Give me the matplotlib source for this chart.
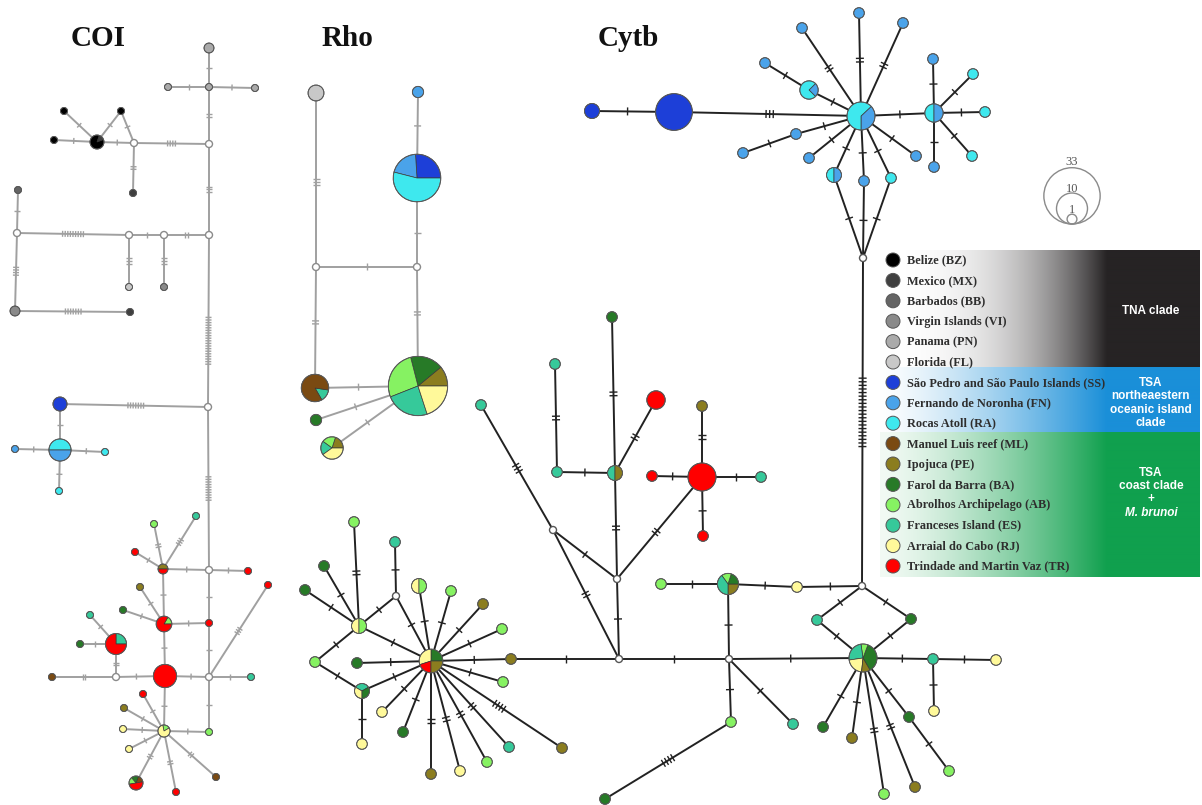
import numpy as np
import matplotlib
matplotlib.use("Agg")
import matplotlib.pyplot as plt
from matplotlib.patches import Wedge, Circle
from matplotlib.collections import LineCollection

#-------------------------------------------------------------
# populations (legend order)
pop_codes = ["BZ", "MX", "BB", "VI", "PN", "FL", "SS", "FN", "RA",
             "ML", "PE", "BA", "AB", "ES", "RJ", "TR"]
pop_labels = ["Belize (BZ)", "Mexico (MX)", "Barbados (BB)", "Virgin Islands (VI)",
              "Panama (PN)", "Florida (FL)", "São Pedro and São Paulo Islands (SS)",
              "Fernando de Noronha (FN)", "Rocas Atoll (RA)", "Manuel Luis reef (ML)",
              "Ipojuca (PE)", "Farol da Barra (BA)", "Abrolhos Archipelago (AB)",
              "Franceses Island (ES)", "Arraial do Cabo (RJ)", "Trindade and Martin Vaz (TR)"]
pop_colors = ["#000000", "#3f3f3f", "#646464", "#8a8a8a", "#aaaaaa", "#c8c8c8",
              "#1d3fd8", "#4aa3ea", "#3ee8ee", "#7a4a12", "#8b7d1f", "#277a27",
              "#86f262", "#36c99a", "#fff99a", "#ff0000"]
color_of = dict(zip(pop_codes, pop_colors))

clade_names = ["TNA clade", "TSA\nnortheaestern\noceanic island\nclade", "TSA\ncoast clade\n+"]
size_key = [33, 10, 1]

# haplotype nodes: (id, x, y, frequency, population shares, start angle)
# frequency 0 = median vector
coi_nodes = [
    ("a1", 209, 48, 2, {"PN": 1}, 0), ("a2", 209, 87, 1, {"PN": 1}, 0),
    ("a3", 168, 87, 1, {"PN": 1}, 0), ("a4", 255, 88, 1, {"PN": 1}, 0),
    ("m1", 209, 144, 0, None, 0), ("m2", 134, 143, 0, None, 0),
    ("b1", 97, 142, 4, {"MX": 1, "BZ": 6}, 20), ("b2", 54, 140, 1, {"BZ": 1}, 0),
    ("b3", 64, 111, 1, {"BZ": 1}, 0), ("b4", 121, 111, 1, {"BZ": 1}, 0),
    ("b5", 133, 193, 1, {"MX": 1}, 0),
    ("m3", 209, 235, 0, None, 0), ("m4", 17, 233, 0, None, 0),
    ("m5", 129, 235, 0, None, 0), ("m6", 164, 235, 0, None, 0),
    ("c1", 18, 190, 1, {"BB": 1}, 0), ("c2", 129, 287, 1, {"FL": 1}, 0),
    ("c3", 164, 287, 1, {"VI": 1}, 0), ("c4", 15, 311, 2, {"VI": 1}, 0),
    ("c5", 130, 312, 1, {"MX": 1}, 0),
    ("m7", 208, 407, 0, None, 0),
    ("d1", 60, 404, 4, {"SS": 1}, 0), ("d2", 60, 450, 10, {"RA": 1, "FN": 1}, 0),
    ("d3", 15, 449, 1, {"FN": 1}, 0), ("d4", 105, 452, 1, {"RA": 1}, 0),
    ("d5", 59, 491, 1, {"RA": 1}, 0),
    ("m8", 209, 570, 0, None, 0),
    ("e1", 163, 569, 2, {"PE": 1, "TR": 1}, 0), ("e2", 248, 571, 1, {"TR": 1}, 0),
    ("e3", 135, 552, 1, {"TR": 1}, 0), ("e4", 154, 524, 1, {"AB": 1}, 0),
    ("e5", 196, 516, 1, {"ES": 1}, 0), ("e6", 164, 624, 5, {"AB": 1, "TR": 5}, 0),
    ("e7", 140, 587, 1, {"PE": 1}, 0), ("e8", 123, 610, 1, {"BA": 1}, 0),
    ("e9", 209, 623, 1, {"TR": 1}, 0), ("m9", 209, 677, 0, None, 0),
    ("e10", 165, 676, 11, {"TR": 1}, 0), ("e11", 251, 677, 1, {"ES": 1}, 0),
    ("e12", 268, 585, 1, {"TR": 1}, 0), ("m10", 116, 677, 0, None, 0),
    ("e13", 52, 677, 1, {"ML": 1}, 0), ("e14", 116, 644, 9, {"ES": 1, "TR": 3}, 0),
    ("e15", 90, 615, 1, {"ES": 1}, 0), ("e16", 80, 644, 1, {"BA": 1}, 0),
    ("e17", 164, 731, 3, {"AB": 1, "RJ": 4}, 30), ("e18", 209, 732, 1, {"AB": 1}, 0),
    ("e19", 143, 694, 1, {"TR": 1}, 0), ("e20", 124, 708, 1, {"PE": 1}, 0),
    ("e21", 123, 729, 1, {"RJ": 1}, 0), ("e22", 129, 749, 1, {"RJ": 1}, 0),
    ("e23", 136, 783, 4, {"ML": 1, "BA": 1, "AB": 1, "TR": 3}, 10),
    ("e24", 176, 792, 1, {"TR": 1}, 0), ("e25", 216, 777, 1, {"ML": 1}, 0),
]
# edges: (from, to, mutational steps[, position of the steps along the edge])
coi_edges = [
    ("a1", "a2", 1), ("a3", "a2", 1), ("a2", "a4", 1), ("a2", "m1", 2),
    ("m2", "m1", 4), ("b1", "m2", 1), ("b2", "b1", 1), ("b3", "b1", 1),
    ("b4", "b1", 1), ("b4", "m2", 1), ("m2", "b5", 2), ("m1", "m3", 3),
    ("c1", "m4", 1), ("m4", "m5", 9), ("m5", "m6", 1), ("m6", "m3", 2),
    ("m5", "c2", 3), ("m6", "c3", 3), ("m4", "c4", 4), ("c4", "c5", 7),
    ("m3", "m7", 19, 0.62), ("d1", "m7", 7), ("d1", "d2", 1), ("d3", "d2", 1),
    ("d2", "d4", 1), ("d2", "d5", 1), ("m7", "m8", 10),
    ("e1", "m8", 1), ("m8", "e2", 1), ("e1", "e3", 1), ("e1", "e4", 2),
    ("e1", "e5", 3), ("e1", "e6", 1), ("e6", "e7", 1), ("e6", "e8", 1),
    ("e6", "e9", 1), ("m8", "e9", 1), ("e9", "m9", 1), ("e6", "e10", 1),
    ("e10", "m9", 1), ("m9", "e11", 1), ("m9", "e12", 3), ("m10", "e10", 1),
    ("e13", "m10", 2), ("m10", "e14", 2), ("e14", "e15", 1), ("e14", "e16", 1),
    ("e10", "e17", 1), ("m9", "e18", 1), ("e17", "e18", 1), ("e17", "e19", 1),
    ("e17", "e20", 1), ("e17", "e21", 1), ("e17", "e22", 1), ("e17", "e23", 2),
    ("e17", "e24", 2), ("e17", "e25", 2),
]

rho_nodes = [
    ("r1", 316, 93, 2, {"FL": 1}, 0), ("r2", 418, 92, 1, {"FN": 1}, 0),
    ("r3", 417, 178, 18, {"SS": 26, "FN": 20, "RA": 54}, 0),
    ("rm1", 316, 267, 0, None, 0), ("rm2", 417, 267, 0, None, 0),
    ("r4", 315, 388, 6, {"ES": 1, "ML": 6}, -60),
    ("r5", 418, 386, 28, {"PE": 11, "BA": 18, "AB": 27, "ES": 24, "RJ": 20}, 0),
    ("r6", 316, 420, 1, {"BA": 1}, 0),
    ("r7", 332, 448, 4, {"PE": 1, "AB": 1, "ES": 1, "RJ": 2}, 0),
]
rho_edges = [
    ("r1", "rm1", 3), ("r2", "r3", 1), ("r3", "rm2", 1), ("rm1", "rm2", 1),
    ("rm1", "r4", 2), ("rm2", "r5", 2), ("r4", "r5", 1), ("r6", "r5", 1),
    ("r7", "r5", 1),
]

cytb_nodes = [
    ("t1", 592, 111, 2, {"SS": 1}, 0), ("t2", 674, 112, 12, {"SS": 1}, 0),
    ("t3", 861, 116, 7, {"FN": 37, "RA": 63}, -90),
    ("t4", 934, 113, 3, {"RA": 1, "FN": 1}, 90),
    ("t5", 933, 59, 1, {"FN": 1}, 0), ("t6", 973, 74, 1, {"RA": 1}, 0),
    ("t7", 985, 112, 1, {"RA": 1}, 0), ("t8", 972, 156, 1, {"RA": 1}, 0),
    ("t9", 934, 167, 1, {"FN": 1}, 0), ("t10", 859, 13, 1, {"FN": 1}, 0),
    ("t11", 802, 28, 1, {"FN": 1}, 0), ("t12", 903, 23, 1, {"FN": 1}, 0),
    ("t13", 809, 90, 3, {"FN": 1, "RA": 3}, -45), ("t14", 765, 63, 1, {"FN": 1}, 0),
    ("t15", 796, 134, 1, {"FN": 1}, 0), ("t16", 743, 153, 1, {"FN": 1}, 0),
    ("t17", 809, 158, 1, {"FN": 1}, 0), ("t18", 916, 156, 1, {"FN": 1}, 0),
    ("t19", 834, 175, 2, {"RA": 1, "FN": 1}, 90), ("t20", 864, 181, 1, {"FN": 1}, 0),
    ("t21", 891, 178, 1, {"RA": 1}, 0),
    ("cm1", 863, 258, 0, None, 0), ("cm2", 862, 586, 0, None, 0),
    ("u1", 612, 317, 1, {"BA": 1}, 0), ("u2", 615, 473, 2, {"ES": 1, "PE": 1}, 90),
    ("u3", 555, 364, 1, {"ES": 1}, 0), ("u4", 557, 472, 1, {"ES": 1}, 0),
    ("u5", 656, 400, 3, {"TR": 1}, 0),
    ("cm3", 617, 579, 0, None, 0), ("cm4", 553, 530, 0, None, 0),
    ("u6", 481, 405, 1, {"ES": 1}, 0), ("u7", 702, 477, 7, {"TR": 1}, 0),
    ("u8", 702, 406, 1, {"PE": 1}, 0), ("u9", 652, 476, 1, {"TR": 1}, 0),
    ("u10", 761, 477, 1, {"ES": 1}, 0), ("u11", 703, 536, 1, {"TR": 1}, 0),
    ("cm5", 619, 659, 0, None, 0), ("cm6", 729, 659, 0, None, 0),
    ("v1", 728, 584, 4, {"PE": 25, "BA": 20, "AB": 15, "ES": 40}, -90),
    ("v2", 661, 584, 1, {"AB": 1}, 0), ("v3", 797, 587, 1, {"RJ": 1}, 0),
    ("v4", 731, 722, 1, {"AB": 1}, 0), ("v5", 793, 724, 1, {"ES": 1}, 0),
    ("v6", 605, 799, 1, {"BA": 1}, 0),
    ("v7", 863, 658, 7, {"BA": 36, "AB": 8, "ES": 25, "RJ": 21, "PE": 10}, -60),
    ("v8", 817, 620, 1, {"ES": 1}, 0), ("v9", 911, 619, 1, {"BA": 1}, 0),
    ("v10", 933, 659, 1, {"ES": 1}, 0), ("v11", 996, 660, 1, {"RJ": 1}, 0),
    ("v12", 934, 711, 1, {"RJ": 1}, 0), ("v13", 823, 727, 1, {"BA": 1}, 0),
    ("v14", 852, 738, 1, {"PE": 1}, 0), ("v15", 884, 794, 1, {"AB": 1}, 0),
    ("v16", 915, 787, 1, {"PE": 1}, 0), ("v17", 909, 717, 1, {"BA": 1}, 0),
    ("v18", 949, 771, 1, {"AB": 1}, 0),
    ("w0", 431, 661, 5, {"BA": 25, "RJ": 30, "TR": 20, "PE": 25}, 0),
    ("w1", 359, 626, 2, {"RJ": 1, "AB": 1}, 90),
    ("w2", 362, 691, 2, {"ES": 1, "RJ": 1, "BA": 1}, 30),
    ("w3", 315, 662, 1, {"AB": 1}, 0), ("wm", 396, 596, 0, None, 0),
    ("w4", 354, 522, 1, {"AB": 1}, 0), ("w5", 395, 542, 1, {"ES": 1}, 0),
    ("w6", 324, 566, 1, {"BA": 1}, 0), ("w7", 305, 590, 1, {"BA": 1}, 0),
    ("w8", 362, 744, 1, {"RJ": 1}, 0), ("w9", 357, 663, 1, {"BA": 1}, 0),
    ("w10", 419, 586, 2, {"RJ": 1, "AB": 1}, 90),
    ("w11", 451, 591, 1, {"AB": 1}, 0), ("w12", 483, 604, 1, {"PE": 1}, 0),
    ("w13", 502, 629, 1, {"AB": 1}, 0), ("w14", 511, 659, 1, {"PE": 1}, 0),
    ("w15", 503, 682, 1, {"AB": 1}, 0), ("w16", 382, 712, 1, {"RJ": 1}, 0),
    ("w17", 403, 732, 1, {"BA": 1}, 0), ("w18", 431, 774, 1, {"PE": 1}, 0),
    ("w19", 460, 771, 1, {"RJ": 1}, 0), ("w20", 487, 762, 1, {"AB": 1}, 0),
    ("w21", 509, 747, 1, {"ES": 1}, 0), ("w22", 562, 748, 1, {"PE": 1}, 0),
]
cytb_edges = [
    ("t1", "t2", 1), ("t2", "t3", 3), ("t3", "t4", 1),
    ("t4", "t5", 1), ("t4", "t6", 1), ("t4", "t7", 1), ("t4", "t8", 1), ("t4", "t9", 1),
    ("t3", "t10", 2), ("t3", "t11", 2), ("t3", "t12", 2), ("t3", "t13", 1),
    ("t13", "t14", 1), ("t3", "t15", 1), ("t15", "t16", 1), ("t3", "t17", 1),
    ("t3", "t18", 1), ("t3", "t19", 1), ("t3", "t20", 1), ("t3", "t21", 1),
    ("t19", "cm1", 1), ("t20", "cm1", 1), ("t21", "cm1", 1), ("cm1", "cm2", 20, 0.47),
    ("u1", "u2", 2), ("u3", "u4", 2), ("u4", "u2", 1), ("u5", "u2", 2),
    ("u2", "cm3", 2), ("u6", "cm4", 3), ("cm4", "cm3", 1), ("cm4", "cm5", 2),
    ("u7", "cm3", 2), ("u8", "u7", 2), ("u9", "u7", 1), ("u7", "u10", 1),
    ("u7", "u11", 1),
    ("cm3", "cm5", 1), ("cm5", "cm6", 1), ("cm6", "v1", 1), ("v2", "v1", 1),
    ("v1", "v3", 1), ("v3", "cm2", 1), ("cm6", "v4", 1), ("cm6", "v5", 1),
    ("v4", "v6", 4), ("cm6", "v7", 1), ("cm2", "v8", 1), ("cm2", "v9", 1),
    ("v8", "v7", 1), ("v9", "v7", 1), ("v7", "v10", 1), ("v10", "v11", 1),
    ("v10", "v12", 1), ("v7", "v13", 1), ("v7", "v14", 1), ("v7", "v15", 2),
    ("v7", "v16", 2), ("v7", "v17", 1), ("v17", "v18", 1),
    ("w4", "w1", 2), ("wm", "w5", 1), ("w6", "w1", 1), ("w7", "w1", 1),
    ("w1", "wm", 1), ("wm", "w0", 1), ("w1", "w0", 1), ("w1", "w3", 1),
    ("w3", "w2", 1), ("w2", "w0", 1), ("w2", "w8", 1), ("w9", "w0", 1),
    ("w10", "w0", 1), ("w11", "w0", 1), ("w12", "w0", 1), ("w13", "w0", 1),
    ("w14", "w0", 1), ("w15", "w0", 1), ("w16", "w0", 1), ("w17", "w0", 1),
    ("w18", "w0", 2), ("w19", "w0", 2), ("w20", "w0", 2), ("w21", "w0", 2),
    ("w22", "w0", 4), ("w14", "cm5", 1),
]

#-------------------------------------------------------------
def draw_network(ax, nodes, edges, scale, line_color, tick_len, tick_gap, median_edge):

    pos = {}
    rad = {}
    for nid, x, y, n, comp, start in nodes:
        pos[nid] = np.array([x, y], float)
        rad[nid] = scale * np.sqrt(n) if n else 3.5

    segs = []
    ticks = []
    for edge in edges:
        a, b, steps = edge[:3]
        frac = edge[3] if len(edge) > 3 else 0.5
        p, q = pos[a], pos[b]
        segs.append([p, q])
        d = q - p
        length = np.hypot(d[0], d[1])
        d = d / length
        nv = np.array([-d[1], d[0]])
        s0, s1 = rad[a], length - rad[b]
        mid = p + d * (s0 + (s1 - s0) * frac)
        for k in range(steps):
            c = mid + d * (k - (steps - 1) / 2) * tick_gap
            ticks.append([c - nv * tick_len / 2, c + nv * tick_len / 2])
    ax.add_collection(LineCollection(segs, colors=line_color, linewidths=1.4, zorder=1))
    ax.add_collection(LineCollection(ticks, colors=line_color, linewidths=1.0, zorder=2))

    for nid, x, y, n, comp, start in nodes:
        if not n:
            ax.add_patch(Circle((x, y), 3.5, facecolor="white", edgecolor=median_edge,
                                lw=1.0, zorder=3))
            continue
        r = rad[nid]
        total = sum(comp.values())
        a0 = start
        for code, share in comp.items():
            a1 = a0 + 360.0 * share / total
            # screen angles -> data angles (y axis inverted)
            ax.add_patch(Wedge((x, y), r, -a1, -a0, facecolor=color_of[code],
                               edgecolor="#3a3a3a", lw=0.5, zorder=3))
            a0 = a1
        ax.add_patch(Circle((x, y), r, fill=False, edgecolor="#5a5a5a", lw=0.7, zorder=4))

#-------------------------------------------------------------
def gradient_band(ax, y0, y1, left, right, power, x0=880, x1=1200, xsolid=1107):
    xs = np.arange(x0, x1) + 0.5
    t = np.clip((xs - x0) / (xsolid - x0), 0, 1) ** power
    left = np.array(matplotlib.colors.to_rgb(left))
    right = np.array(matplotlib.colors.to_rgb(right))
    row = left[None, :] * (1 - t[:, None]) + right[None, :] * t[:, None]
    img = np.repeat(row[None, :, :], 2, axis=0)
    ax.imshow(img, extent=(x0, x1, y1, y0), aspect="auto", interpolation="bilinear",
              zorder=0)

#-------------------------------------------------------------
def main():

    fig = plt.figure(figsize=(12.02, 8.05), dpi=100)
    ax = fig.add_axes([0, 0, 1, 1])
    ax.set_xlim(0, 1202)
    ax.set_ylim(805, 0)
    ax.axis("off")

    serif = "Liberation Serif"
    sans = "Liberation Sans"

    #titles
    for label, xc in [("COI", 98), ("Rho", 348), ("Cytb", 628)]:
        ax.text(xc, 46, label, fontsize=21, fontweight="bold", family=serif,
                ha="center", va="baseline", color="#111111")

    #networks
    draw_network(ax, coi_nodes, coi_edges, 3.5, "#a0a0a0", 6, 2.6, "#8a8a8a")
    draw_network(ax, rho_nodes, rho_edges, 5.6, "#a0a0a0", 7, 3.0, "#8a8a8a")
    draw_network(ax, cytb_nodes, cytb_edges, 5.3, "#222222", 8, 3.6, "#555555")

    #legend bands
    gradient_band(ax, 250, 368, "#ffffff", "#262324", 2.5)
    gradient_band(ax, 368, 432, "#ffffff", "#1a8fd8", 1.3)
    gradient_band(ax, 432, 577, "#f2faf4", "#10a04e", 1.4)

    for i, (lab, col) in enumerate(zip(pop_labels, pop_colors)):
        y = 260 + 20.4 * i
        ax.add_patch(Circle((893, y), 7, facecolor=col, edgecolor="#555555",
                            lw=0.7, zorder=3))
        ax.text(907, y + 0.5, lab, fontsize=8.8, fontweight="bold", family=serif,
                ha="left", va="center", color="#2e2e2e", zorder=4)

    ax.text(1151, 311, clade_names[0], fontsize=8.5, fontweight="bold", family=sans,
            ha="center", va="center", color="white", zorder=4)
    ax.text(1151, 403, clade_names[1], fontsize=8.5, fontweight="bold", family=sans,
            ha="center", va="center", color="white", linespacing=1.15, zorder=4)
    ax.text(1151, 486, clade_names[2], fontsize=8.5, fontweight="bold", family=sans,
            ha="center", va="center", color="white", linespacing=1.15, zorder=4)
    ax.text(1151, 513, "M. brunoi", fontsize=8.5, fontweight="bold", style="italic",
            family=sans, ha="center", va="center", color="white", zorder=4)

    #frequency key
    bottom = 224
    for n, ty in zip(size_key, [162, 189, 210]):
        r = 4.9 * np.sqrt(n)
        ax.add_patch(Circle((1072, bottom - r), r, fill=False, edgecolor="#8a8a8a",
                            lw=1.0, zorder=3))
        ax.text(1072, ty, str(n), fontsize=9, family=serif, ha="center", va="center",
                color="#555555")

    fig.savefig("out.png", dpi=100)
    plt.close(fig)

#-------------------------------------------------------------
if __name__ == "__main__":
    main()
